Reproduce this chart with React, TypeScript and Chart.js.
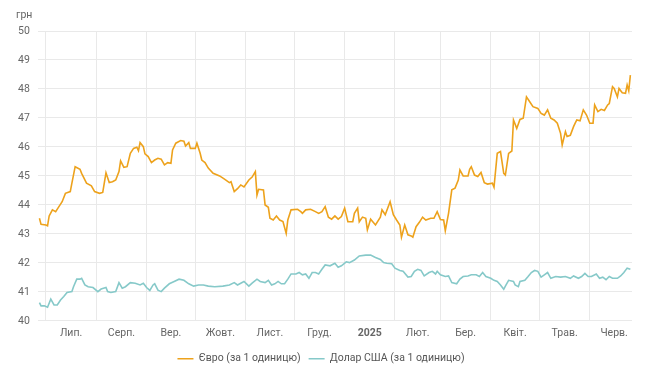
import React, { useEffect, useRef } from 'react';
import { Chart, registerables } from 'chart.js';

Chart.register(...registerables);

const DAY = 86400000;
const ORIGIN = Date.UTC(2024, 6, 1);

const monthStarts = [
  '2024-07-01', '2024-08-01', '2024-09-01', '2024-10-01', '2024-11-01', '2024-12-01',
  '2025-01-01', '2025-02-01', '2025-03-01', '2025-04-01', '2025-05-01', '2025-06-01', '2025-07-01',
];
const monthLabels = ['Лип.', 'Серп.', 'Вер.', 'Жовт.', 'Лист.', 'Груд.', '2025', 'Лют.', 'Бер.', 'Квіт.', 'Трав.', 'Черв.'];

const xMinDay = -5;
const xMaxDay = 361;

// days counted from 2024-07-01
const eurDays = [
  -4, -3, 0, 1, 2, 4, 6, 8, 10, 12, 15, 16, 18, 21, 22, 25, 28, 30, 33, 35,
  37, 39, 41, 43, 45, 46, 48, 50, 52, 54, 56, 57, 58, 60, 61, 63, 65, 67, 69, 71,
  73, 75, 77, 78, 80, 83, 85, 86, 88, 89, 92, 93, 95, 96, 98, 100, 103, 107, 110, 113,
  114, 116, 118, 120, 122, 125, 127, 129, 130, 131, 134, 135, 137, 138, 140, 142, 144, 146, 148, 149,
  151, 155, 157, 158, 160, 163, 166, 168, 170, 172, 174, 176, 178, 180, 182, 184, 186, 189, 190, 192,
  193, 195, 197, 198, 200, 203, 206, 207, 209, 212, 214, 216, 218, 219, 221, 223, 225, 226, 228, 230,
  232, 234, 237, 239, 241, 243, 245, 246, 248, 250, 252, 254, 255, 257, 260, 261, 262, 264, 266, 268,
  270, 272, 275, 276, 278, 280, 282, 283, 285, 287, 288, 290, 292, 294, 296, 298, 300, 303, 305, 307,
  309, 311, 313, 315, 317, 318, 320, 321, 323, 325, 326, 327, 329, 331, 333, 335, 337, 338, 340, 342,
  344, 346, 347, 349, 350, 352, 353, 355, 357, 358, 359, 360,
];
const eurValues = [
  43.54, 43.33, 43.31, 43.28, 43.62, 43.83, 43.77, 43.94, 44.11, 44.40, 44.46, 44.75, 45.32, 45.23, 45.09, 44.75, 44.66, 44.46, 44.40, 44.43,
  45.11, 44.77, 44.80, 44.86, 45.15, 45.52, 45.30, 45.32, 45.78, 45.95, 45.99, 45.87, 46.15, 46.01, 45.76, 45.67, 45.46, 45.55, 45.61, 45.58,
  45.38, 45.46, 45.44, 45.90, 46.13, 46.22, 46.20, 46.03, 46.15, 45.95, 45.95, 46.13, 45.78, 45.55, 45.46, 45.27, 45.09, 45.00, 44.89, 44.77,
  44.80, 44.46, 44.56, 44.69, 44.62, 44.86, 44.96, 45.15, 44.34, 44.54, 44.52, 44.00, 43.92, 43.54, 43.48, 43.62, 43.48, 43.43, 43.02, 43.48,
  43.83, 43.85, 43.77, 43.71, 43.83, 43.85, 43.77, 43.71, 43.77, 43.94, 43.58, 43.51, 43.62, 43.51, 43.60, 43.89, 43.42, 43.42, 43.71, 43.89,
  43.42, 43.58, 43.54, 43.14, 43.51, 43.31, 43.58, 43.83, 43.66, 44.11, 43.66, 43.48, 43.31, 42.89, 43.31, 42.97, 42.93, 42.89, 43.25, 43.40,
  43.58, 43.48, 43.54, 43.54, 43.77, 43.50, 43.48, 43.11, 43.71, 44.52, 44.58, 44.86, 45.21, 45.00, 45.00, 45.23, 45.32, 45.03, 44.98, 45.12,
  44.77, 44.72, 44.75, 44.61, 45.78, 45.84, 45.09, 45.03, 45.78, 45.86, 46.93, 46.64, 46.95, 46.99, 47.73, 47.56, 47.39, 47.33, 47.16, 47.10,
  47.28, 46.99, 46.93, 46.82, 46.47, 46.07, 46.53, 46.36, 46.40, 46.70, 46.82, 46.93, 46.90, 47.28, 47.10, 46.82, 46.82, 47.45, 47.22, 47.30,
  47.26, 47.45, 47.50, 48.08, 48.02, 47.73, 48.02, 47.87, 47.85, 48.14, 47.94, 48.48,
];

const usdDays = [
  -4, -3, -1, 1, 3, 5, 7, 9, 11, 13, 16, 17, 19, 21, 22, 24, 26, 29, 32, 34,
  37, 38, 40, 43, 45, 47, 49, 52, 55, 58, 60, 62, 64, 66, 67, 69, 71, 73, 76, 79,
  82, 85, 88, 91, 94, 97, 100, 104, 109, 113, 116, 118, 122, 125, 127, 130, 132, 135, 137, 139,
  141, 143, 145, 147, 149, 151, 154, 156, 158, 160, 162, 164, 166, 168, 170, 172, 175, 178, 180, 182,
  185, 187, 190, 193, 197, 200, 203, 206, 208, 210, 213, 215, 218, 220, 223, 225, 227, 229, 231, 233,
  236, 238, 240, 241, 243, 246, 248, 250, 253, 255, 257, 260, 262, 265, 267, 269, 271, 274, 276, 278,
  280, 282, 283, 285, 288, 289, 291, 292, 295, 297, 299, 301, 303, 305, 307, 309, 311, 314, 317, 320,
  323, 325, 328, 330, 332, 334, 336, 339, 341, 343, 345, 347, 349, 352, 354, 356, 358, 360,
];
const usdValues = [
  40.63, 40.52, 40.52, 40.47, 40.75, 40.55, 40.55, 40.72, 40.84, 40.98, 41.01, 41.18, 41.44, 41.44, 41.47, 41.24, 41.18, 41.15, 41.01, 41.10,
  41.15, 41.01, 40.98, 41.01, 41.32, 41.13, 41.18, 41.32, 41.30, 41.24, 41.30, 41.15, 41.05, 41.24, 41.28, 41.06, 41.01, 41.13, 41.28, 41.36,
  41.44, 41.40, 41.28, 41.20, 41.24, 41.24, 41.20, 41.18, 41.20, 41.24, 41.32, 41.24, 41.36, 41.20, 41.30, 41.44, 41.36, 41.32, 41.40, 41.24,
  41.28, 41.36, 41.28, 41.28, 41.44, 41.62, 41.62, 41.67, 41.59, 41.62, 41.47, 41.67, 41.67, 41.62, 41.78, 41.93, 41.90, 41.99, 41.85, 41.90,
  42.04, 42.01, 42.10, 42.24, 42.27, 42.27, 42.19, 42.12, 42.01, 41.99, 41.97, 41.82, 41.74, 41.71, 41.51, 41.53, 41.71, 41.78, 41.74, 41.55,
  41.67, 41.71, 41.62, 41.71, 41.59, 41.53, 41.55, 41.32, 41.28, 41.44, 41.53, 41.55, 41.59, 41.59, 41.53, 41.67, 41.53, 41.47, 41.40, 41.36,
  41.24, 41.09, 41.20, 41.40, 41.36, 41.24, 41.18, 41.36, 41.40, 41.53, 41.67, 41.74, 41.71, 41.51, 41.59, 41.67, 41.47, 41.53, 41.51, 41.53,
  41.47, 41.55, 41.47, 41.53, 41.64, 41.53, 41.53, 41.62, 41.47, 41.51, 41.42, 41.53, 41.47, 41.47, 41.55, 41.67, 41.82, 41.78,
];

const yMin = 40;
const yMax = 50;
const yUnit = 'грн';
const eurLabel = 'Євро (за 1 одиницю)';
const usdLabel = 'Долар США (за 1 одиницю)';

const EUR_COLOR = '#eda21c';
const USD_COLOR = '#86c9c9';
const GRID = '#e9e9e9';
const TEXT = '#666666';
const FONT_SIZE = 10.5;

function dayOf(iso: string): number {
  const [y, m, d] = iso.split('-').map(Number);
  return (Date.UTC(y, m - 1, d) - ORIGIN) / DAY;
}

export default function App() {
  const ref = useRef<HTMLCanvasElement | null>(null);

  useEffect(() => {
    document.body.style.margin = '0';
    const canvas = ref.current;
    if (!canvas) return;

    const starts = monthStarts.map(dayOf);
    const startSet = new Set(starts.filter((d) => d >= xMinDay && d <= xMaxDay));
    const midMap = new Map<number, string>();
    for (let i = 0; i < monthLabels.length; i++) {
      midMap.set((starts[i] + starts[i + 1]) / 2, monthLabels[i]);
    }

    const unitPlugin = {
      id: 'unitLabel',
      afterDraw(chart: any) {
        const c = chart.ctx;
        c.save();
        c.font = `${FONT_SIZE}px Roboto, sans-serif`;
        c.fillStyle = TEXT;
        c.textAlign = 'left';
        c.textBaseline = 'middle';
        c.fillText(yUnit, 16, 15);
        c.restore();
      },
    };

    const chart = new Chart(canvas, {
      type: 'line',
      data: {
        datasets: [
          {
            label: eurLabel,
            data: eurDays.map((d, i) => ({ x: d, y: eurValues[i] })),
            borderColor: EUR_COLOR,
            backgroundColor: EUR_COLOR,
            borderWidth: 1.6,
            pointRadius: 0,
            tension: 0,
          },
          {
            label: usdLabel,
            data: usdDays.map((d, i) => ({ x: d, y: usdValues[i] })),
            borderColor: USD_COLOR,
            backgroundColor: USD_COLOR,
            borderWidth: 1.6,
            pointRadius: 0,
            tension: 0,
          },
        ],
      },
      options: {
        animation: false,
        responsive: false,
        maintainAspectRatio: false,
        layout: { padding: { left: 10, right: 18, top: 31, bottom: 9 } },
        plugins: {
          legend: {
            position: 'bottom',
            labels: {
              usePointStyle: true,
              pointStyle: 'line',
              pointStyleWidth: 16,
              color: '#555',
              font: { size: FONT_SIZE, family: 'Roboto' },
              padding: 8,
            },
          },
          tooltip: { enabled: false },
        },
        scales: {
          x: {
            type: 'linear',
            min: xMinDay,
            max: xMaxDay,
            afterBuildTicks: (scale: any) => {
              const vals = [...Array.from(startSet), ...Array.from(midMap.keys())]
                .filter((v) => v >= xMinDay && v <= xMaxDay)
                .sort((a, b) => a - b);
              scale.ticks = vals.map((v) => ({ value: v }));
            },
            grid: {
              color: (ctx: any) => (ctx.tick && startSet.has(ctx.tick.value) ? GRID : 'rgba(0,0,0,0)'),
              drawTicks: false,
            },
            border: { display: false },
            ticks: {
              autoSkip: false,
              maxRotation: 0,
              padding: 6,
              color: TEXT,
              font: (ctx: any) => ({
                size: FONT_SIZE,
                family: 'Roboto',
                weight: ctx.tick && midMap.get(ctx.tick.value) === '2025' ? 'bold' : 'normal',
              }),
              callback: (value: any) => midMap.get(Number(value)) ?? '',
            },
          },
          y: {
            min: yMin,
            max: yMax,
            ticks: { stepSize: 1, color: TEXT, padding: 8, font: { size: FONT_SIZE, family: 'Roboto' } },
            grid: { color: GRID, drawTicks: false },
            border: { display: false },
          },
        },
      },
      plugins: [unitPlugin],
    } as any);

    return () => chart.destroy();
  }, []);

  return (
    <div style={{ width: 650, height: 383, position: 'relative', background: '#fff' }}>
      <canvas ref={ref} width={650} height={383} style={{ display: 'block' }} />
    </div>
  );
}
